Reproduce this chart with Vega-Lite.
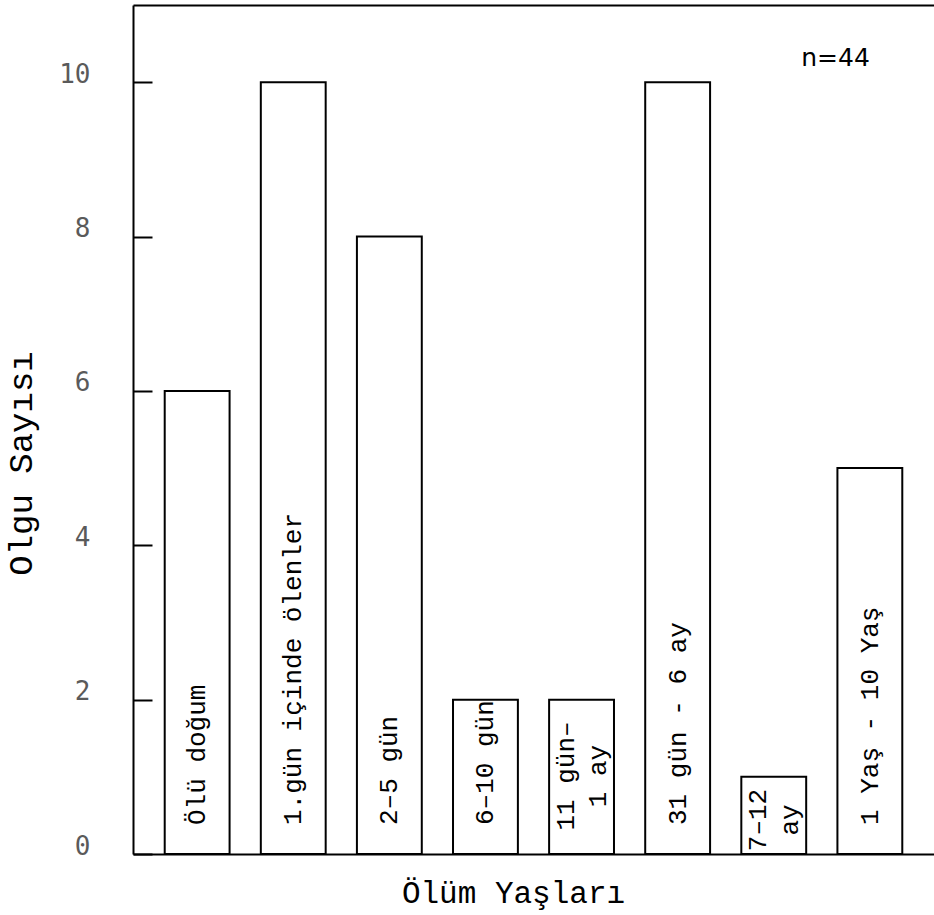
{
  "$schema": "https://vega.github.io/schema/vega-lite/v6.json",
  "width": 801,
  "height": 849,
  "autosize": {"type": "none"},
  "padding": {"left": 133, "top": 5, "right": 0, "bottom": 61},
  "background": "white",
  "config": {"view": {"stroke": null}, "font": "Liberation Mono"},
  "data": {
    "values": [
      {"yas": "Ölü doğum", "olgu": 6, "tip": "tek"},
      {"yas": "1.gün içinde ölenler", "olgu": 10, "tip": "tek"},
      {"yas": "2–5 gün", "olgu": 8, "tip": "tek"},
      {"yas": "6–10 gün", "olgu": 2, "tip": "tek"},
      {"yas": "11 gün–\n1 ay", "olgu": 2, "tip": "iki_a"},
      {"yas": "31 gün - 6 ay", "olgu": 10, "tip": "tek"},
      {"yas": "7–12\nay", "olgu": 1, "tip": "iki_b"},
      {"yas": "1 Yaş - 10 Yaş", "olgu": 5, "tip": "tek"}
    ]
  },
  "resolve": {"axis": {"x": "independent", "y": "independent"}},
  "layer": [
    {
      "mark": {"type": "bar", "fill": "white", "stroke": "black", "strokeWidth": 2},
      "encoding": {
        "x": {
          "field": "yas", "type": "nominal", "sort": null,
          "scale": {
            "domain": ["Ölü doğum", "1.gün içinde ölenler", "2–5 gün", "6–10 gün", "11 gün–\n1 ay", "31 gün - 6 ay", "7–12\nay", "1 Yaş - 10 Yaş"],
            "paddingInner": 0.325, "paddingOuter": 0.33
          },
          "axis": {
            "orient": "bottom", "labels": false, "ticks": false, "domainColor": "black", "domainWidth": 2,
            "title": "Ölüm Yaşları", "titleFont": "Liberation Mono", "titleFontSize": 31, "titleFontWeight": "normal",
            "titleColor": "black", "titleAnchor": "start", "titleAlign": "center", "titleBaseline": "middle",
            "titleX": 380, "titleY": 39
          }
        },
        "y": {
          "field": "olgu", "type": "quantitative",
          "scale": {"domain": [0, 11], "nice": false, "zero": true},
          "axis": {
            "orient": "left",
            "values": [0, 2, 4, 6, 8, 10], "format": "d", "grid": false, "domainColor": "black", "domainWidth": 2,
            "ticks": false,
            "labelFont": "DejaVu Sans Mono", "labelFontSize": 26, "labelColor": "#5a5a5a",
            "labelAlign": "right", "labelBaseline": "alphabetic", "labelPadding": 43,
            "title": "Olgu Sayısı", "titleFont": "Liberation Mono", "titleFontSize": 34, "titleFontWeight": "normal",
            "titleColor": "black", "titleAngle": -90, "titleAlign": "center", "titleBaseline": "middle",
            "titleX": -112, "titleY": 458
          }
        }
      }
    },
    {
      "transform": [{"filter": "datum.tip == 'tek'"}],
      "mark": {"type": "text", "angle": -90, "align": "left", "baseline": "middle", "dx": 29, "fontSize": 26, "font": "Liberation Mono", "color": "black"},
      "encoding": {
        "x": {"field": "yas", "type": "nominal", "sort": null,
              "axis": {"orient": "top", "labels": false, "ticks": false, "title": null, "domainColor": "black", "domainWidth": 2}},
        "y": {"datum": 0, "type": "quantitative", "axis": null},
        "text": {"field": "yas"}
      }
    },
    {
      "transform": [{"filter": "datum.tip == 'iki_a'"}],
      "mark": {"type": "text", "angle": -90, "align": "center", "baseline": "middle", "dx": 78, "dy": -16, "fontSize": 26, "font": "Liberation Mono", "color": "black", "lineBreak": "\n", "lineHeight": 32},
      "encoding": {
        "x": {"field": "yas", "type": "nominal", "sort": null, "axis": null},
        "y": {"datum": 0, "type": "quantitative", "axis": null},
        "text": {"field": "yas"}
      }
    },
    {
      "transform": [{"filter": "datum.tip == 'iki_b'"}],
      "mark": {"type": "text", "angle": -90, "align": "center", "baseline": "middle", "dx": 34, "dy": -16, "fontSize": 26, "font": "Liberation Mono", "color": "black", "lineBreak": "\n", "lineHeight": 32},
      "encoding": {
        "x": {"field": "yas", "type": "nominal", "sort": null, "axis": null},
        "y": {"datum": 0, "type": "quantitative", "axis": null},
        "text": {"field": "yas"}
      }
    },
    {
      "data": {"values": [{"yas": "1 Yaş - 10 Yaş", "olgu": 10.31, "etiket": "n=44"}]},
      "mark": {"type": "text", "align": "right", "baseline": "middle", "fontSize": 25, "font": "DejaVu Sans", "color": "black"},
      "encoding": {
        "x": {"field": "yas", "type": "nominal", "sort": null, "axis": null},
        "y": {"field": "olgu", "type": "quantitative",
              "axis": {"orient": "left", "offset": -19, "values": [0, 2, 4, 6, 8, 10], "labels": false, "domain": false, "grid": false, "title": null, "ticks": true, "tickSize": 19, "tickColor": "black", "tickWidth": 2}},
        "text": {"field": "etiket"}
      }
    }
  ]
}
